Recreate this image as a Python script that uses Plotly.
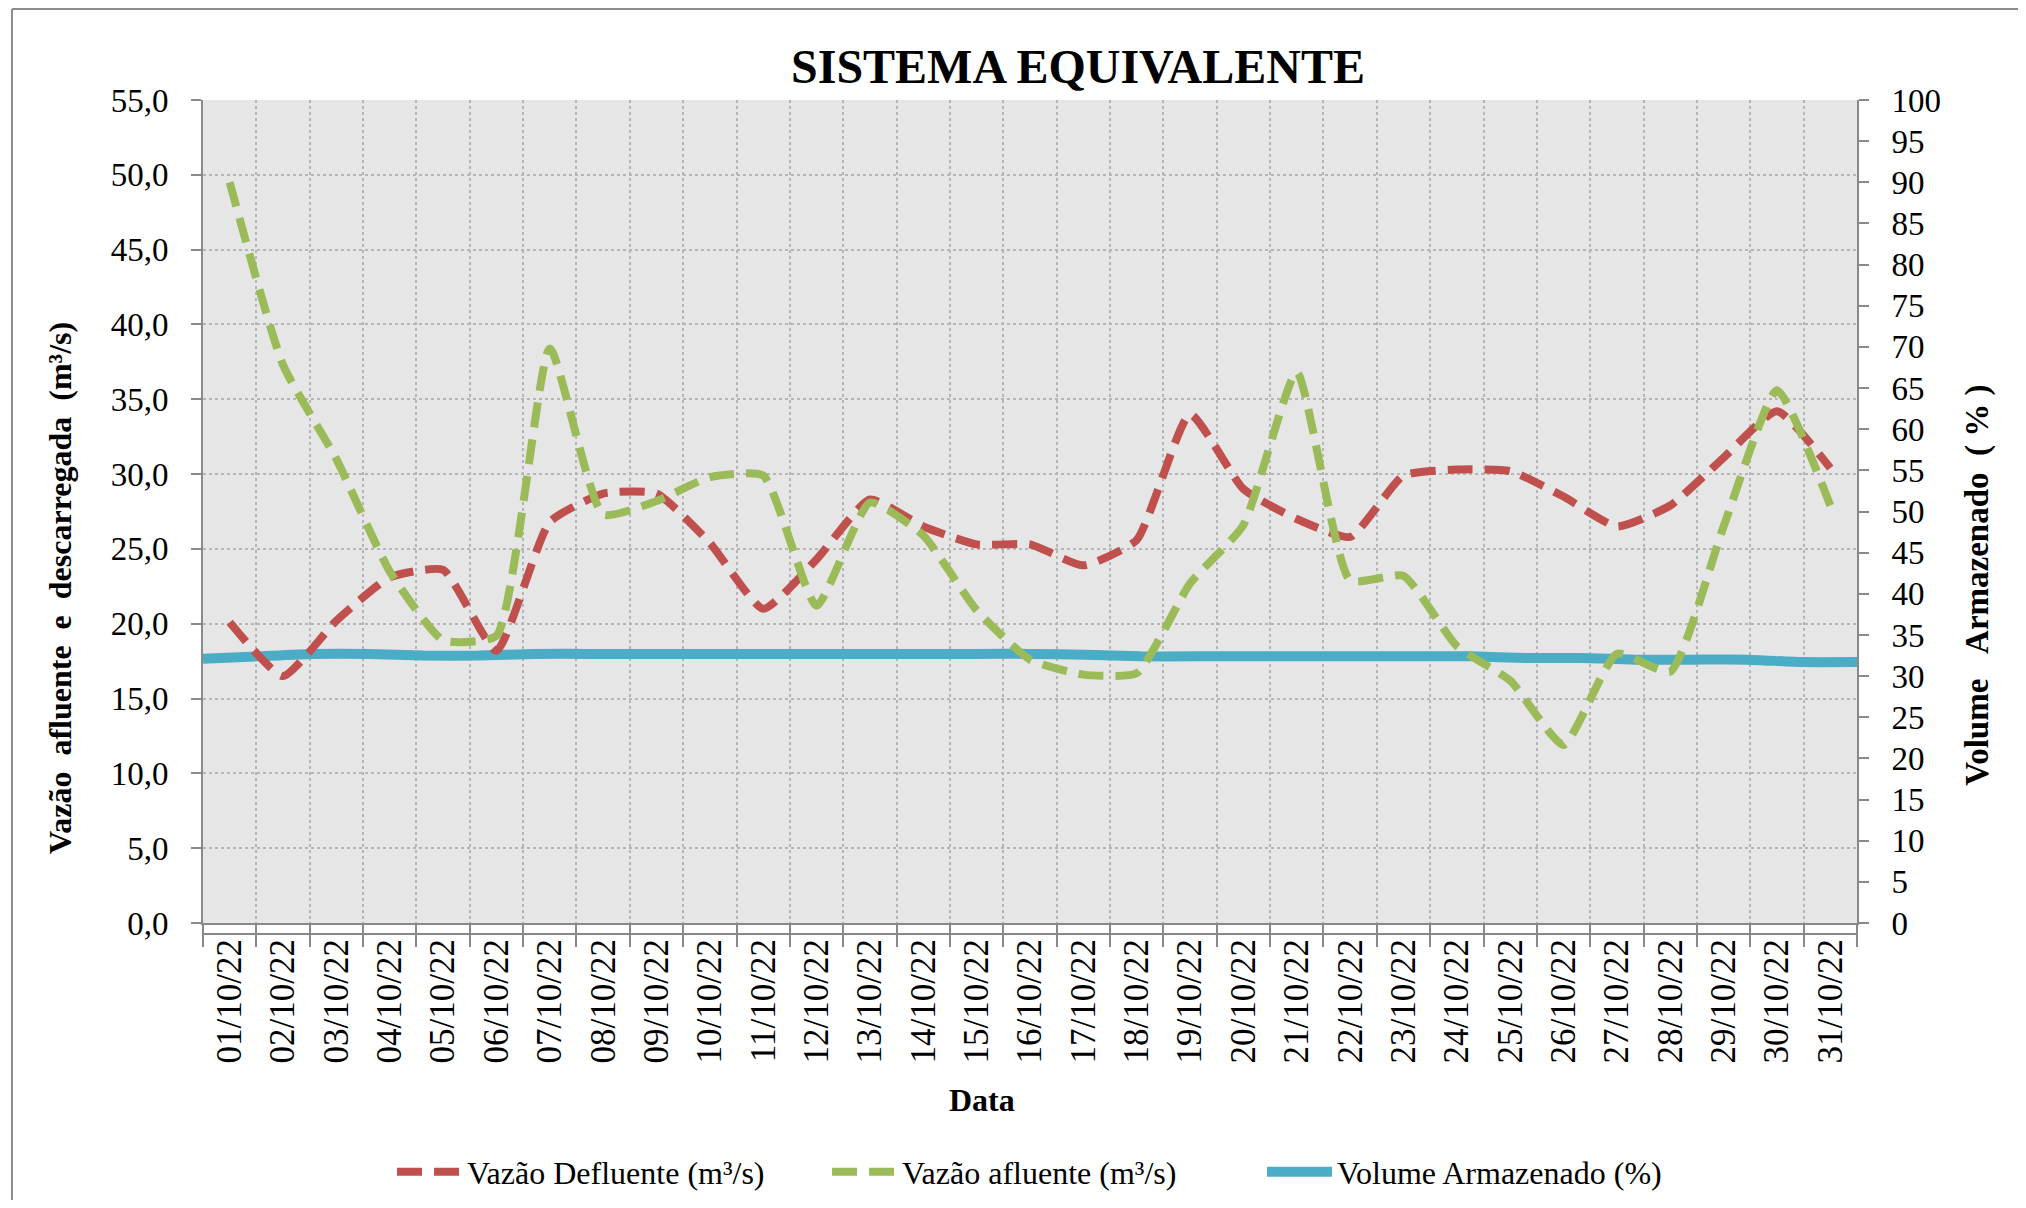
import plotly.graph_objects as go

# dates (categories)
dates = [
    "01/10/22", "02/10/22", "03/10/22", "04/10/22", "05/10/22", "06/10/22",
    "07/10/22", "08/10/22", "09/10/22", "10/10/22", "11/10/22", "12/10/22",
    "13/10/22", "14/10/22", "15/10/22", "16/10/22", "17/10/22", "18/10/22",
    "19/10/22", "20/10/22", "21/10/22", "22/10/22", "23/10/22", "24/10/22",
    "25/10/22", "26/10/22", "27/10/22", "28/10/22", "29/10/22", "30/10/22",
    "31/10/22",
]

# m3/s
vazao_defluente = [
    20.1, 16.5, 20.2, 23.1, 23.6, 18.2, 26.8, 28.7, 28.7, 25.4, 21.0,
    24.3, 28.3, 26.5, 25.3, 25.3, 23.9, 25.6, 34.0, 29.0, 27.0, 25.8,
    29.9, 30.3, 30.2, 28.5, 26.5, 27.9, 31.1, 34.2, 30.4,
]
vazao_afluente = [
    49.5, 37.3, 31.0, 23.5, 18.9, 19.2, 38.4, 27.3, 28.2, 29.8, 29.9,
    21.2, 28.1, 25.9, 20.9, 17.6, 16.6, 16.7, 22.7, 26.6, 36.8, 22.9,
    23.2, 18.5, 16.2, 11.9, 18.0, 16.8, 26.5, 35.6, 27.9,
]
# %
volume_armazenado = [
    32.1, 32.4, 32.7, 32.7, 32.5, 32.5, 32.7, 32.7, 32.7, 32.7, 32.7,
    32.7, 32.7, 32.7, 32.7, 32.7, 32.6, 32.4, 32.4, 32.4, 32.4, 32.4,
    32.4, 32.4, 32.2, 32.2, 32.0, 32.0, 32.0, 31.7, 31.7,
]

FONT = "Liberation Serif"
AXIS_GRAY = "#898989"
GRID_GRAY = "#b5b5b5"
DASH = "25px,12px"

fig = go.Figure()

# blue line spans edge to edge (on its own hidden category axis)
fig.add_trace(go.Scatter(
    x=dates, y=volume_armazenado, name="Volume Armazenado (%)",
    mode="lines", line=dict(color="#4bacc6", width=10, shape="spline", smoothing=0.5),
    xaxis="x", yaxis="y", legendrank=3,
))
fig.add_trace(go.Scatter(
    x=dates, y=vazao_defluente, name="Vazão Defluente (m³/s)",
    mode="lines", line=dict(color="#c0504d", width=8, dash=DASH, shape="spline", smoothing=0.5),
    xaxis="x2", yaxis="y2", legendrank=1,
))
fig.add_trace(go.Scatter(
    x=dates, y=vazao_afluente, name="Vazão afluente (m³/s)",
    mode="lines", line=dict(color="#9bbb59", width=8, dash=DASH, shape="spline", smoothing=0.5),
    xaxis="x2", yaxis="y2", legendrank=2,
))

# page body has an 8px margin on every side, keep the figure inside the window
fig.update_layout(
    width=2010, height=1192,
    margin=dict(l=195, r=161, t=92, b=277, autoexpand=False),
    paper_bgcolor="white",
    plot_bgcolor="#e6e6e6",
    separators=",.",
    font=dict(family=FONT, size=32, color="black"),
    showlegend=True,
    legend=dict(
        orientation="h", x=0.1143, xanchor="left", y=-0.3026, yanchor="middle",
        font=dict(family=FONT, size=32), itemwidth=65,
        entrywidth=355, entrywidthmode="pixels",
        bgcolor="rgba(0,0,0,0)",
    ),
    xaxis=dict(
        type="category", categoryarray=dates, range=[0, 30],
        visible=False, anchor="y",
    ),
    yaxis=dict(
        side="right", range=[0, 100], dtick=5, tick0=0,
        showgrid=False, zeroline=False,
        showline=True, linecolor=AXIS_GRAY, linewidth=2,
        ticks="outside", ticklen=10, tickwidth=2, tickcolor=AXIS_GRAY,
        ticklabelstandoff=16,
        tickfont=dict(family=FONT, size=33),
    ),
    xaxis2=dict(
        type="category", categoryarray=dates, range=[-0.5, 30.5],
        overlaying="x", anchor="y2", side="bottom",
        tickson="boundaries", ticks="outside", ticklen=22, tickwidth=2, tickcolor=AXIS_GRAY,
        tickangle=-90, tickfont=dict(family=FONT, size=35),
        showline=True, linecolor=AXIS_GRAY, linewidth=2,
        showgrid=True, gridcolor=GRID_GRAY, gridwidth=1.5, griddash="dot",
    ),
    yaxis2=dict(
        overlaying="y", side="left", range=[0, 55], dtick=5, tick0=0,
        tickformat=".1f",
        showgrid=True, gridcolor=GRID_GRAY, gridwidth=1.5, griddash="dot",
        zeroline=False,
        showline=True, linecolor=AXIS_GRAY, linewidth=2,
        ticks="outside", ticklen=10, tickwidth=2, tickcolor=AXIS_GRAY,
        ticklabelstandoff=16,
        tickfont=dict(family=FONT, size=33),
    ),
)

# second line under the category axis
fig.add_shape(type="line", xref="paper", yref="paper", x0=0, x1=1,
              y0=-11 / 823, y1=-11 / 823, line=dict(color=AXIS_GRAY, width=2))
# outer frame (top and left edges)
frame_top = 1 + 91 / 823
fig.add_shape(type="line", xref="paper", yref="paper", x0=-0.1155, x1=1.2,
              y0=frame_top, y1=frame_top, line=dict(color="#8c8c8c", width=2))
fig.add_shape(type="line", xref="paper", yref="paper", x0=-0.1155, x1=-0.1155,
              y0=-0.4, y1=frame_top, line=dict(color="#8c8c8c", width=2))

# titles
fig.add_annotation(text="<b>SISTEMA EQUIVALENTE</b>", xref="paper", yref="paper",
                   x=0.5293, y=1.041, xanchor="center", yanchor="middle",
                   showarrow=False, font=dict(family=FONT, size=48))
fig.add_annotation(text="<b>Vazão\u00a0\u00a0afluente\u00a0\u00a0e\u00a0\u00a0descarregada\u00a0\u00a0(m³/s)</b>",
                   xref="paper", yref="paper", x=-0.0865, y=0.407, textangle=-90,
                   xanchor="center", yanchor="middle", showarrow=False,
                   font=dict(family=FONT, size=32))
fig.add_annotation(text="<b>Volume\u00a0\u00a0\u00a0Armazenado\u00a0\u00a0(\u00a0%\u00a0)</b>",
                   xref="paper", yref="paper", x=1.0726, y=0.41, textangle=-90,
                   xanchor="center", yanchor="middle", showarrow=False,
                   font=dict(family=FONT, size=33))
fig.add_annotation(text="<b>Data</b>", xref="paper", yref="paper", x=0.471, y=-0.215,
                   xanchor="center", yanchor="middle", showarrow=False,
                   font=dict(family=FONT, size=32))

fig.write_html("out.html")
